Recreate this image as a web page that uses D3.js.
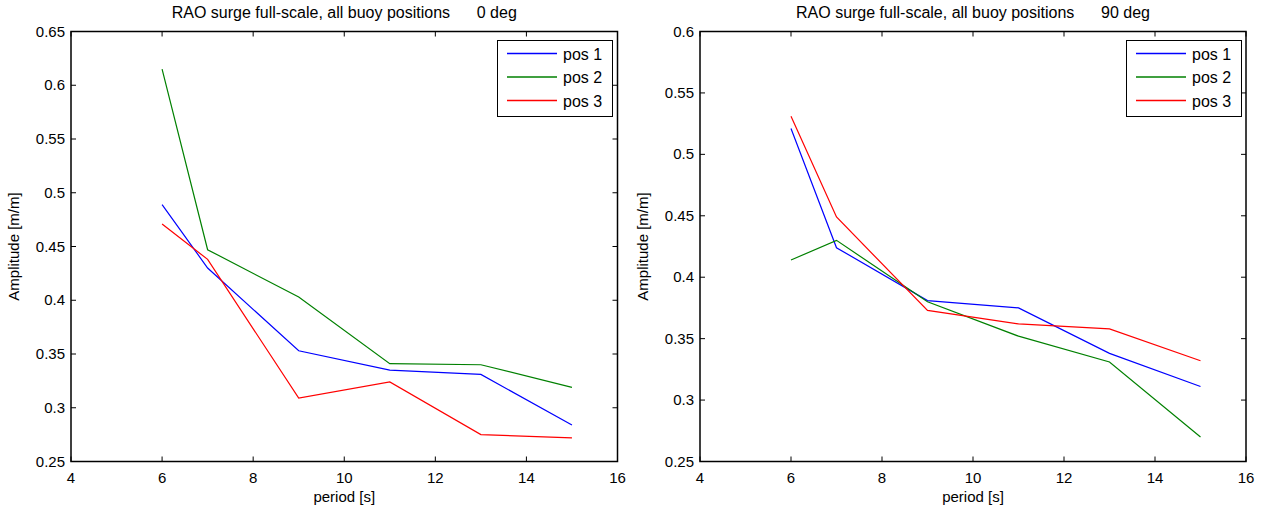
<!DOCTYPE html>
<html>
<head>
<meta charset="utf-8">
<script src="https://cdn.jsdelivr.net/npm/d3@7"></script>
<style>
  body { margin: 0; background: #fff; }
  text { font-family: "Liberation Sans", Arial, sans-serif; fill: #000; }
</style>
</head>
<body>
<div id="chart"></div>
<script>
// periods [s]
var periods = [6, 7, 9, 11, 13, 15];
var seriesNames = ["pos 1", "pos 2", "pos 3"];
var seriesColors = ["#0000ff", "#008000", "#ff0000"];

// 0 deg
var pos1_0 = [0.489, 0.430, 0.353, 0.335, 0.331, 0.284];
var pos2_0 = [0.615, 0.447, 0.403, 0.341, 0.340, 0.319];
var pos3_0 = [0.471, 0.438, 0.309, 0.324, 0.275, 0.272];

// 90 deg
var pos1_90 = [0.521, 0.424, 0.381, 0.375, 0.338, 0.311];
var pos2_90 = [0.414, 0.430, 0.380, 0.352, 0.331, 0.270];
var pos3_90 = [0.531, 0.449, 0.373, 0.362, 0.358, 0.332];

var xTicks = [4, 6, 8, 10, 12, 14, 16];
var yTicks0 = [0.25, 0.3, 0.35, 0.4, 0.45, 0.5, 0.55, 0.6, 0.65];
var yTicks90 = [0.25, 0.3, 0.35, 0.4, 0.45, 0.5, 0.55, 0.6];

var W = 1266, H = 510;
var svg = d3.select("#chart").append("svg")
  .attr("width", W)
  .attr("height", H);

function drawPanel(opts) {
  var x = d3.scaleLinear().domain([4, 16]).range([opts.left, opts.right]);
  var y = d3.scaleLinear().domain(opts.yDomain).range([opts.bottom, opts.top]);
  var g = svg.append("g");
  var tick = 5;

  // lines
  var line = d3.line()
    .x(function(d, i) { return x(periods[i]); })
    .y(function(d) { return y(d); });
  opts.series.forEach(function(s, k) {
    g.append("path")
      .attr("d", line(s))
      .attr("fill", "none")
      .attr("stroke", seriesColors[k])
      .attr("stroke-width", 1.2);
  });

  // box
  g.append("rect")
    .attr("x", opts.left).attr("y", opts.top)
    .attr("width", opts.right - opts.left)
    .attr("height", opts.bottom - opts.top)
    .attr("fill", "none")
    .attr("stroke", "#000")
    .attr("stroke-width", 1.5);

  // x ticks (inside, bottom and top)
  xTicks.forEach(function(t) {
    g.append("line").attr("x1", x(t)).attr("x2", x(t))
      .attr("y1", opts.bottom).attr("y2", opts.bottom - tick)
      .attr("stroke", "#000");
    g.append("line").attr("x1", x(t)).attr("x2", x(t))
      .attr("y1", opts.top).attr("y2", opts.top + tick)
      .attr("stroke", "#000");
    g.append("text")
      .attr("x", x(t)).attr("y", opts.bottom + 21)
      .attr("text-anchor", "middle")
      .attr("font-size", 15)
      .text(t);
  });

  // y ticks
  opts.yTicks.forEach(function(t) {
    g.append("line").attr("x1", opts.left).attr("x2", opts.left + tick)
      .attr("y1", y(t)).attr("y2", y(t))
      .attr("stroke", "#000");
    g.append("line").attr("x1", opts.right).attr("x2", opts.right - tick)
      .attr("y1", y(t)).attr("y2", y(t))
      .attr("stroke", "#000");
    g.append("text")
      .attr("x", opts.left - 6).attr("y", y(t) + 5)
      .attr("text-anchor", "end")
      .attr("font-size", 15)
      .text(d3.format("")(t));
  });

  // titles / labels
  var cx = (opts.left + opts.right) / 2;
  g.append("text")
    .attr("x", cx).attr("y", 18)
    .attr("text-anchor", "middle")
    .attr("font-size", 16)
    .attr("xml:space", "preserve")
    .style("white-space", "pre")
    .text(opts.title);
  g.append("text")
    .attr("x", cx).attr("y", opts.bottom + 40)
    .attr("text-anchor", "middle")
    .attr("font-size", 15)
    .text("period [s]");
  g.append("text")
    .attr("transform", "translate(" + (opts.left - 52) + "," + ((opts.top + opts.bottom) / 2) + ") rotate(-90)")
    .attr("text-anchor", "middle")
    .attr("font-size", 15)
    .text("Amplitude [m/m]");

  // legend
  var lg = g.append("g");
  lg.append("rect")
    .attr("x", opts.legX + 0.5).attr("y", 40.5)
    .attr("width", 115).attr("height", 76)
    .attr("fill", "#fff")
    .attr("stroke", "#000")
    .attr("stroke-width", 1);
  seriesNames.forEach(function(n, k) {
    var ly = 53.5 + k * 23.5;
    lg.append("line")
      .attr("x1", opts.legX + 10).attr("x2", opts.legX + 60)
      .attr("y1", ly).attr("y2", ly)
      .attr("stroke", seriesColors[k])
      .attr("stroke-width", 1.3);
    lg.append("text")
      .attr("x", opts.legX + 66).attr("y", ly + 6)
      .attr("font-size", 16)
      .text(n);
  });
}

drawPanel({
  left: 71, right: 617.5, top: 31.5, bottom: 461.5,
  yDomain: [0.25, 0.65], yTicks: yTicks0,
  series: [pos1_0, pos2_0, pos3_0],
  title: "RAO surge full-scale, all buoy positions      0 deg",
  legX: 497
});

drawPanel({
  left: 700, right: 1246, top: 31.5, bottom: 461.5,
  yDomain: [0.25, 0.6], yTicks: yTicks90,
  series: [pos1_90, pos2_90, pos3_90],
  title: "RAO surge full-scale, all buoy positions      90 deg",
  legX: 1126
});
</script>
</body>
</html>
